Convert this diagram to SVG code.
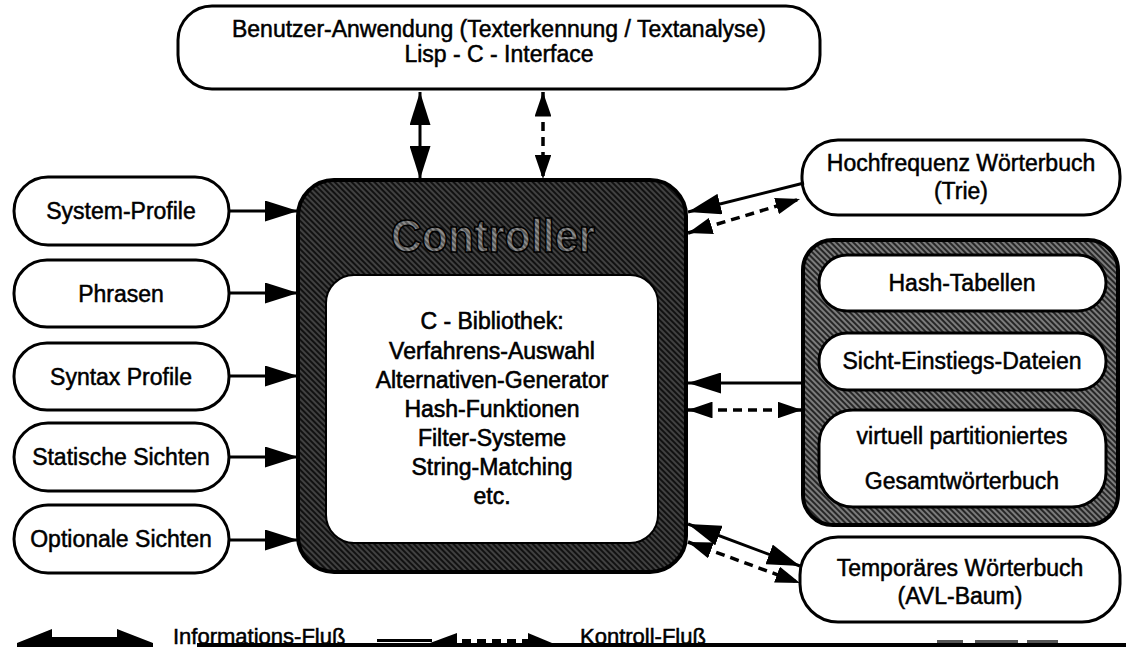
<svg xmlns="http://www.w3.org/2000/svg" width="1126" height="647" viewBox="0 0 1126 647">
  <defs>
    <!-- dark halftone used for the controller frame -->
    <pattern id="hatchDark" width="4" height="4" patternUnits="userSpaceOnUse" patternTransform="rotate(45)">
      <rect width="4" height="4" fill="#111"/>
      <line x1="0" y1="2" x2="4" y2="2" stroke="#7c7c7c" stroke-width="0.9"/>
    </pattern>
    <!-- medium halftone for the dictionary block -->
    <pattern id="hatchMid" width="4" height="4" patternUnits="userSpaceOnUse" patternTransform="rotate(45)">
      <rect width="4" height="4" fill="#262626"/>
      <line x1="0" y1="2" x2="4" y2="2" stroke="#b5b5b5" stroke-width="1.2"/>
    </pattern>
    <!-- lighter halftone for the embossed title lettering -->
    <pattern id="hatchLight" width="4" height="4" patternUnits="userSpaceOnUse" patternTransform="rotate(45)">
      <rect width="4" height="4" fill="#8c8c8c"/>
      <line x1="0" y1="2" x2="4" y2="2" stroke="#222" stroke-width="1"/>
    </pattern>
    <!-- large filled head for information flow (33 x 21 px at stroke 3) -->
    <marker id="head" viewBox="0 0 11 7" refX="11" refY="3.5" markerWidth="11" markerHeight="7" markerUnits="strokeWidth" orient="auto-start-reverse">
      <path d="M0,0 L11,3.5 L0,7 z" fill="#000"/>
    </marker>
    <!-- smaller head for control flow -->
    <marker id="headS" viewBox="0 0 7 4.8" refX="7" refY="2.4" markerWidth="7" markerHeight="4.8" markerUnits="strokeWidth" orient="auto-start-reverse">
      <path d="M0,0 L7,2.4 L0,4.8 z" fill="#000"/>
    </marker>
  </defs>
  <style>
    .box { fill: #fff; stroke: #000; stroke-width: 3; }
    .lbl { font-family: "Liberation Sans", Arial, Helvetica, sans-serif; font-size: 23px; fill: #000; stroke: #000; stroke-width: 0.5; text-anchor: middle; }
    .lib { font-family: "Liberation Sans", Arial, Helvetica, sans-serif; font-size: 23px; fill: #000; stroke: #000; stroke-width: 0.6; text-anchor: middle; }
    .leg { font-family: "Liberation Sans", Arial, Helvetica, sans-serif; font-size: 22px; fill: #000; stroke: #000; stroke-width: 0.5; }
    .solid { stroke: #000; stroke-width: 3; fill: none; marker-end: url(#head); }
    .both { stroke: #000; stroke-width: 3; fill: none; marker-start: url(#head); marker-end: url(#head); }
    .dash { stroke: #000; stroke-width: 3.5; fill: none; stroke-dasharray: 9 6; marker-start: url(#headS); marker-end: url(#headS); }
  </style>

  <rect width="1126" height="647" fill="#fff"/>

  <!-- top: user application -->
  <g id="benutzer">
    <rect class="box" x="178" y="6" width="642" height="83" rx="34"/>
    <text class="lbl" x="499" y="37" font-size="22px">Benutzer-Anwendung (Texterkennung / Textanalyse)</text>
    <text class="lbl" x="499" y="62" font-size="22px">Lisp - C - Interface</text>
  </g>

  <!-- left input nodes -->
  <g id="system-profile">
    <rect class="box" x="14" y="177" width="215" height="68" rx="34"/>
    <text class="lbl" x="121" y="219">System-Profile</text>
  </g>
  <g id="phrasen">
    <rect class="box" x="14" y="260" width="215" height="67" rx="33"/>
    <text class="lbl" x="121" y="302">Phrasen</text>
  </g>
  <g id="syntax-profile">
    <rect class="box" x="14" y="343" width="215" height="67" rx="33"/>
    <text class="lbl" x="121" y="385">Syntax Profile</text>
  </g>
  <g id="statische-sichten">
    <rect class="box" x="14" y="423" width="215" height="68" rx="34"/>
    <text class="lbl" x="121" y="465">Statische Sichten</text>
  </g>
  <g id="optionale-sichten">
    <rect class="box" x="14" y="505" width="215" height="68" rx="34"/>
    <text class="lbl" x="121" y="547">Optionale Sichten</text>
  </g>

  <!-- controller with the C library -->
  <g id="controller">
    <rect x="298" y="180" width="388" height="392" rx="36" fill="url(#hatchDark)" stroke="#000" stroke-width="4"/>
    <text x="493" y="252" font-family="'Liberation Sans', Arial, sans-serif" font-weight="bold" font-size="46" text-anchor="middle" textLength="204" lengthAdjust="spacingAndGlyphs" fill="url(#hatchLight)" stroke="#000" stroke-width="1.6">Controller</text>
    <rect x="326" y="275" width="332" height="268" rx="28" fill="#fff" stroke="#000" stroke-width="2"/>
    <text class="lib" x="492" y="329" font-size="28px">C - Bibliothek:</text>
    <text class="lib" x="492" y="359">Verfahrens-Auswahl</text>
    <text class="lib" x="492" y="388">Alternativen-Generator</text>
    <text class="lib" x="492" y="417">Hash-Funktionen</text>
    <text class="lib" x="492" y="446">Filter-Systeme</text>
    <text class="lib" x="492" y="475">String-Matching</text>
    <text class="lib" x="492" y="504">etc.</text>
  </g>

  <!-- right side dictionaries -->
  <g id="hochfrequenz">
    <rect class="box" x="802" y="140" width="318" height="75" rx="36"/>
    <text class="lbl" x="961" y="171">Hochfrequenz Wörterbuch</text>
    <text class="lbl" x="961" y="199">(Trie)</text>
  </g>
  <g id="woerterbuch-block">
    <rect x="803" y="240" width="315" height="285" rx="30" fill="url(#hatchMid)" stroke="#000" stroke-width="4"/>
    <g id="hash-tabellen">
      <rect class="box" x="819" y="255" width="287" height="56" rx="28"/>
      <text class="lbl" x="962" y="291">Hash-Tabellen</text>
    </g>
    <g id="sicht-einstiegs-dateien">
      <rect class="box" x="819" y="333" width="287" height="57" rx="28"/>
      <text class="lbl" x="962" y="369">Sicht-Einstiegs-Dateien</text>
    </g>
    <g id="gesamtwoerterbuch">
      <rect class="box" x="819" y="410" width="287" height="97" rx="34"/>
      <text class="lbl" x="962" y="444">virtuell partitioniertes</text>
      <text class="lbl" x="962" y="489">Gesamtwörterbuch</text>
    </g>
  </g>
  <g id="temporaeres">
    <rect class="box" x="800" y="537" width="320" height="85" rx="38"/>
    <text class="lbl" x="960" y="576">Temporäres Wörterbuch</text>
    <text class="lbl" x="960" y="604">(AVL-Baum)</text>
  </g>

  <!-- connectors -->
  <g id="connectors">
    <line class="both" x1="420" y1="92" x2="420" y2="179"/>
    <line class="dash" x1="543" y1="92" x2="543" y2="179"/>

    <line class="solid" x1="229" y1="211" x2="298" y2="211"/>
    <line class="solid" x1="229" y1="293" x2="298" y2="293"/>
    <line class="solid" x1="229" y1="376" x2="298" y2="376"/>
    <line class="solid" x1="229" y1="457" x2="298" y2="457"/>
    <line class="solid" x1="229" y1="540" x2="298" y2="540"/>

    <line class="solid" x1="804" y1="183" x2="688" y2="212"/>
    <line class="dash" x1="688" y1="233" x2="800" y2="199"/>

    <line class="solid" x1="803" y1="383" x2="688" y2="383"/>
    <line class="dash" x1="688" y1="410" x2="802" y2="410"/>

    <line class="both" x1="688" y1="524" x2="800" y2="566"/>
    <line class="dash" x1="688" y1="542" x2="800" y2="583"/>
  </g>

  <!-- legend along the bottom edge -->
  <g id="legend">
    <polygon points="17,647 17,643 52,629 52,637 117,637 117,629 153,643 153,647" fill="#000"/>
    <text class="leg" x="173" y="644">Informations-Fluß</text>
    <rect x="377" y="639" width="55" height="3" fill="#000"/>
    <polygon points="430,643 457,633 457,643" fill="#000"/>
    <path d="M462,641 H530" stroke="#000" stroke-width="4" stroke-dasharray="9 6"/>
    <polygon points="528,633 552,643 528,643" fill="#000"/>
    <text class="leg" x="580" y="644">Kontroll-Fluß</text>
    <rect x="197" y="643" width="929" height="4" fill="#000"/>
    <rect x="937" y="640" width="26" height="3" fill="#555"/>
    <rect x="975" y="640" width="43" height="3" fill="#555"/>
    <rect x="1027" y="640" width="31" height="3" fill="#555"/>
  </g>
</svg>
